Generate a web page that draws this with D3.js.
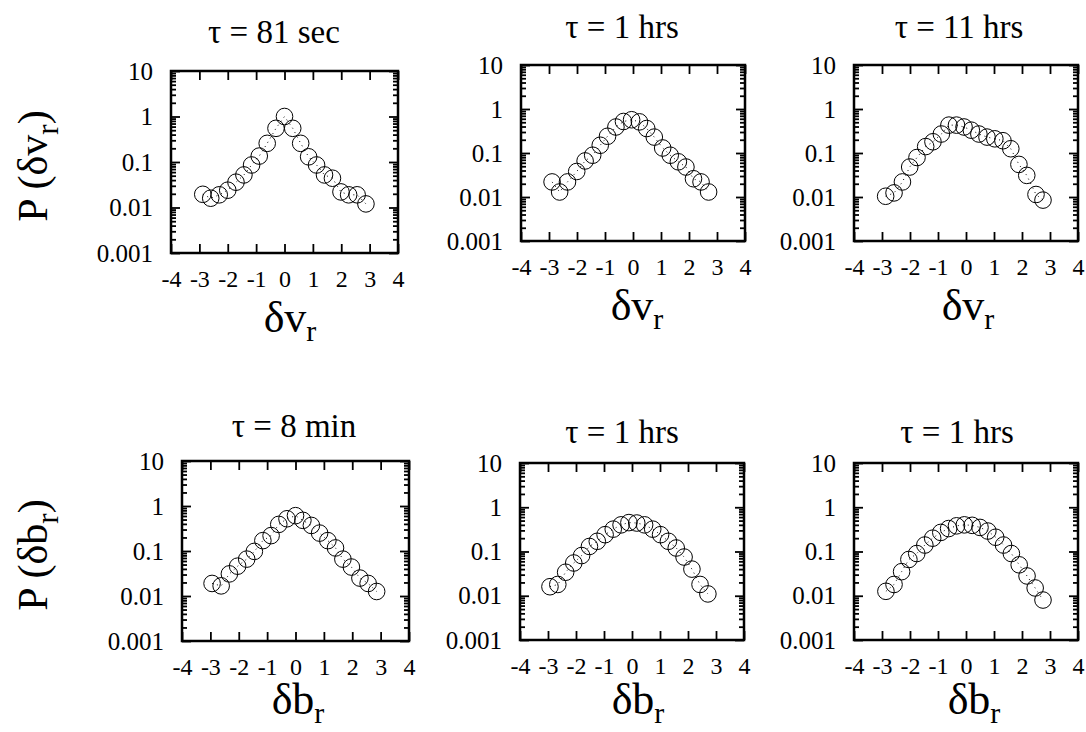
<!DOCTYPE html>
<html>
<head>
<meta charset="utf-8">
<script src="https://cdn.jsdelivr.net/npm/d3@7"></script>
<style>
  body { margin: 0; background: #fff; }
  svg text { font-family: "Liberation Serif", "Times New Roman", serif; fill: #000; }
</style>
</head>
<body>
<div id="chart"></div>
<script>
// values: bin centres and probability density
const xV81 = [-2.88, -2.60, -2.30, -2.00, -1.71, -1.43, -1.16, -0.89, -0.61, -0.30, 0.0, 0.29, 0.57, 0.85, 1.13, 1.41, 1.69, 1.99, 2.26, 2.56, 2.87];
const pV81 = [0.0195, 0.016, 0.019, 0.024, 0.036, 0.052, 0.086, 0.135, 0.257, 0.55, 1.0, 0.55, 0.257, 0.13, 0.086, 0.052, 0.044, 0.022, 0.019, 0.019, 0.012];

const xV1h = [-2.89, -2.62, -2.34, -2.01, -1.71, -1.44, -1.17, -0.91, -0.61, -0.34, -0.05, 0.23, 0.49, 0.76, 1.06, 1.33, 1.62, 1.89, 2.16, 2.43, 2.70];
const pV1h = [0.022, 0.013, 0.022, 0.038, 0.066, 0.089, 0.15, 0.24, 0.39, 0.52, 0.57, 0.51, 0.36, 0.23, 0.13, 0.089, 0.063, 0.048, 0.026, 0.022, 0.013];

const xV11h = [-2.87, -2.57, -2.27, -2.01, -1.75, -1.44, -1.18, -0.88, -0.61, -0.34, -0.07, 0.19, 0.46, 0.75, 1.03, 1.32, 1.60, 1.89, 2.17, 2.50, 2.75];
const pV11h = [0.0104, 0.0124, 0.022, 0.048, 0.079, 0.14, 0.18, 0.27, 0.43, 0.43, 0.39, 0.33, 0.27, 0.23, 0.21, 0.19, 0.125, 0.055, 0.031, 0.0114, 0.0085];

const xB8m = [-2.94, -2.62, -2.33, -2.04, -1.72, -1.45, -1.15, -0.86, -0.59, -0.30, 0.0, 0.26, 0.56, 0.85, 1.14, 1.41, 1.67, 1.97, 2.27, 2.56, 2.86];
const pB8m = [0.019, 0.0168, 0.031, 0.046, 0.066, 0.098, 0.17, 0.22, 0.39, 0.52, 0.61, 0.48, 0.37, 0.25, 0.17, 0.117, 0.066, 0.044, 0.025, 0.019, 0.0126];

const xB1hA = [-2.93, -2.65, -2.37, -2.08, -1.80, -1.52, -1.24, -0.96, -0.67, -0.39, -0.11, 0.17, 0.45, 0.74, 1.02, 1.30, 1.58, 1.86, 2.14, 2.43, 2.71];
const pB1hA = [0.016, 0.018, 0.034, 0.055, 0.081, 0.13, 0.17, 0.24, 0.32, 0.40, 0.45, 0.44, 0.40, 0.32, 0.24, 0.17, 0.12, 0.075, 0.04, 0.018, 0.011];

const xB1hB = [-2.86, -2.57, -2.30, -2.04, -1.76, -1.47, -1.19, -0.90, -0.62, -0.34, -0.06, 0.22, 0.50, 0.78, 1.06, 1.34, 1.62, 1.90, 2.18, 2.47, 2.75];
const pB1hB = [0.0126, 0.018, 0.035, 0.066, 0.09, 0.14, 0.2, 0.27, 0.33, 0.38, 0.40, 0.39, 0.35, 0.29, 0.21, 0.14, 0.09, 0.05, 0.028, 0.015, 0.008];

const titles = ["\u03C4 = 81 sec", "\u03C4 = 1 hrs", "\u03C4 = 11 hrs", "\u03C4 = 8 min", "\u03C4 = 1 hrs", "\u03C4 = 1 hrs"];
const xTicks = [-4, -3, -2, -1, 0, 1, 2, 3, 4];
const yTicks = [0.001, 0.01, 0.1, 1, 10];
const yTickLabels = ["0.001", "0.01", "0.1", "1", "10"];

const W = 1086, H = 732;

const svg = d3.select("#chart").append("svg")
  .attr("width", W)
  .attr("height", H);

// frame of each panel, in pixels
const panels = [
  { x: xV81, p: pV81, title: titles[0], var: "v", box: [171, 71, 227, 182], tx: 274, ty: 43, lx: 290, ly: 332 },
  { x: xV1h, p: pV1h, title: titles[1], var: "v", box: [521, 65, 224, 176], tx: 622, ty: 38, lx: 637, ly: 320 },
  { x: xV11h, p: pV11h, title: titles[2], var: "v", box: [854, 65, 224, 176], tx: 959, ty: 38, lx: 968, ly: 320 },
  { x: xB8m, p: pB8m, title: titles[3], var: "b", box: [182, 461, 227, 180], tx: 294, ty: 437, lx: 298, ly: 714 },
  { x: xB1hA, p: pB1hA, title: titles[4], var: "b", box: [520, 463, 224, 177], tx: 622, ty: 443, lx: 638, ly: 714 },
  { x: xB1hB, p: pB1hB, title: titles[5], var: "b", box: [854, 463, 224, 177], tx: 957, ty: 443, lx: 974, ly: 714 }
];

// minor ticks 2..9 in every decade
const minorTicks = [];
yTicks.slice(0, -1).forEach(function (d) {
  for (let k = 2; k <= 9; k++) minorTicks.push(d * k);
});

panels.forEach(function (pn) {
  const [L, T, w, h] = pn.box;
  const x = d3.scaleLinear().domain([-4, 4]).range([0, w]);
  const y = d3.scaleLog().domain([0.001, 10]).range([h, 0]);

  const g = svg.append("g").attr("transform", "translate(" + L + "," + T + ")");

  // axes, ticks pointing inward
  const bottom = g.append("g").attr("transform", "translate(0," + h + ")")
    .call(d3.axisBottom(x).tickValues(xTicks).tickSizeInner(-9).tickSizeOuter(0).tickPadding(18)
      .tickFormat(function (d) { return String(d); }));
  g.append("g")
    .call(d3.axisTop(x).tickValues(xTicks).tickSizeInner(-9).tickSizeOuter(0).tickFormat(""));
  const left = g.append("g")
    .call(d3.axisLeft(y).tickValues(yTicks).tickSizeInner(-9).tickSizeOuter(0).tickPadding(18)
      .tickFormat(function (d, i) { return yTickLabels[i]; }));
  g.append("g")
    .call(d3.axisLeft(y).tickValues(minorTicks).tickSizeInner(-5).tickSizeOuter(0).tickFormat(""));
  g.append("g").attr("transform", "translate(" + w + ",0)")
    .call(d3.axisRight(y).tickValues(yTicks).tickSizeInner(-9).tickSizeOuter(0).tickFormat(""));
  g.append("g").attr("transform", "translate(" + w + ",0)")
    .call(d3.axisRight(y).tickValues(minorTicks).tickSizeInner(-5).tickSizeOuter(0).tickFormat(""));

  g.selectAll(".domain").remove();
  g.selectAll(".tick line").attr("stroke", "#000").attr("stroke-width", 1.8);
  g.selectAll(".tick text")
    .style("font-family", "'Liberation Serif', 'Times New Roman', serif")
    .attr("fill", "#000");
  left.selectAll(".tick text").style("font-size", "25px");
  bottom.selectAll(".tick text").style("font-size", "24px").attr("dy", "0.68em");

  g.append("rect")
    .attr("width", w)
    .attr("height", h)
    .attr("fill", "none")
    .attr("stroke", "#000")
    .attr("stroke-width", 2.5);

  const pts = pn.x.map(function (d, i) { return [d, pn.p[i]]; });

  // dotted connecting line
  g.append("path")
    .datum(pts)
    .attr("fill", "none")
    .attr("stroke", "#000")
    .attr("stroke-width", 1)
    .attr("stroke-dasharray", "1,4")
    .attr("d", d3.line().x(function (d) { return x(d[0]); }).y(function (d) { return y(d[1]); }));

  g.selectAll("circle.pt")
    .data(pts)
    .enter().append("circle")
    .attr("class", "pt")
    .attr("cx", function (d) { return x(d[0]); })
    .attr("cy", function (d) { return y(d[1]); })
    .attr("r", 8.3)
    .attr("fill", "none")
    .attr("stroke", "#000")
    .attr("stroke-width", 1);

  // title
  svg.append("text")
    .attr("x", pn.tx)
    .attr("y", pn.ty)
    .attr("text-anchor", "middle")
    .style("font-size", "33px")
    .text(pn.title);

  // x label  δv_r / δb_r
  const xl = svg.append("text")
    .attr("x", pn.lx)
    .attr("y", pn.ly)
    .attr("text-anchor", "middle")
    .style("font-size", "44px");
  xl.append("tspan").text("\u03B4" + pn.var);
  xl.append("tspan").attr("dy", 9).style("font-size", "30px").text("r");
});

// y labels
[["v", 47, 166], ["b", 47, 555]].forEach(function (d) {
  const t = svg.append("text")
    .attr("transform", "translate(" + d[1] + "," + d[2] + ") rotate(-90)")
    .attr("text-anchor", "middle")
    .style("font-size", "42px");
  t.append("tspan").text("P (\u03B4" + d[0]);
  t.append("tspan").attr("dy", 11).style("font-size", "31px").text("r");
  t.append("tspan").attr("dy", -11).text(")");
});
</script>
</body>
</html>
